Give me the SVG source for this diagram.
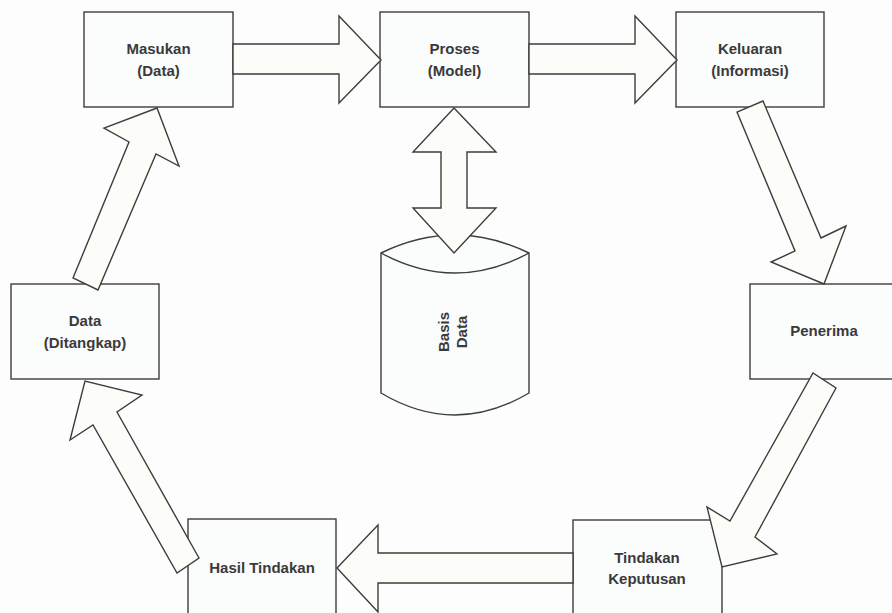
<svg xmlns="http://www.w3.org/2000/svg" width="892" height="613" viewBox="0 0 892 613">
  <style>
    .box { fill: #fbfcfc; stroke: #3d3d3d; stroke-width: 1.4; }
    .arrow { fill: #fcfcf8; stroke: #3d3d3d; stroke-width: 1.4; stroke-linejoin: miter; }
    .label { font-family: "Liberation Sans", Arial, sans-serif; font-size: 15px; font-weight: bold; fill: #3a3a3a; text-anchor: middle; }
  </style>
  <rect x="0" y="0" width="892" height="613" fill="#fdfdfd"/>

  <!-- Nodes -->
  <g id="masukan">
    <rect class="box" x="84" y="12" width="149" height="95"/>
    <text class="label" x="158.5" y="54">Masukan</text>
    <text class="label" x="158.5" y="76">(Data)</text>
  </g>
  <g id="proses">
    <rect class="box" x="380" y="12" width="149" height="95"/>
    <text class="label" x="454.5" y="54">Proses</text>
    <text class="label" x="454.5" y="76">(Model)</text>
  </g>
  <g id="keluaran">
    <rect class="box" x="676" y="12" width="148" height="95"/>
    <text class="label" x="750" y="54">Keluaran</text>
    <text class="label" x="750" y="76">(Informasi)</text>
  </g>
  <g id="penerima">
    <rect class="box" x="750" y="284" width="148" height="95"/>
    <text class="label" x="824" y="336">Penerima</text>
  </g>
  <g id="tindakan-keputusan">
    <rect class="box" x="573" y="520" width="149" height="95"/>
    <text class="label" x="647" y="563">Tindakan</text>
    <text class="label" x="647" y="584">Keputusan</text>
  </g>
  <g id="hasil-tindakan">
    <rect class="box" x="188" y="519" width="148" height="95"/>
    <text class="label" x="262" y="573">Hasil Tindakan</text>
  </g>
  <g id="data-ditangkap">
    <rect class="box" x="11" y="284" width="148" height="95"/>
    <text class="label" x="85" y="326">Data</text>
    <text class="label" x="85" y="348">(Ditangkap)</text>
  </g>
  <g id="basis-data">
    <path class="box" d="M381,253 Q455,217 529,253 L529,393 Q455,437 381,393 Z"/>
    <path d="M381,253 Q455,293 529,253" fill="none" stroke="#3d3d3d" stroke-width="1.4"/>
    <g transform="translate(452,332) rotate(-90)">
      <text class="label" x="0" y="-3">Basis</text>
      <text class="label" x="0" y="15">Data</text>
    </g>
  </g>

  <!-- Connectors (block arrows) -->
  <g id="connectors">
    <polygon class="arrow" points="233,44 339,44 339,16 381,60 339,103 339,74 233,74"/>
    <polygon class="arrow" points="529,44 635,44 635,16 677,60 635,103 635,74 529,74"/>
    <polygon class="arrow" points="763,101 821,238 846,226 824,284 771,262 795,251 737,112"/>
    <polygon class="arrow" points="836,388 755,537 777,554 722,567 707,507 730,521 813,373"/>
    <polygon class="arrow" points="573,553 378,553 378,525 337,568 378,612 378,583 573,583"/>
    <polygon class="arrow" points="199,558 117,412 142,395 85,381 70,440 93,425 177,573"/>
    <polygon class="arrow" points="73,278 129,142 104,128 157,108 179,166 156,154 98,290"/>
    <polygon class="arrow" points="454,108 496,152 467,152 467,208 496,208 454,253 413,208 441,208 441,152 413,152"/>
  </g>
</svg>
